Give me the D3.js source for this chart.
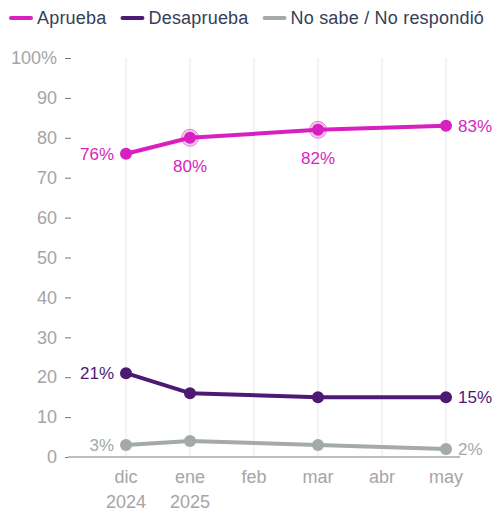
<!DOCTYPE html>
<html>
<head>
<meta charset="utf-8">
<script src="https://cdn.jsdelivr.net/npm/d3@7"></script>
<style>
  body { margin: 0; background: #fff; }
  svg text { font-family: "Liberation Sans", Arial, sans-serif; }
</style>
</head>
<body>
<script>
// datos
var MESES = ["dic", "ene", "feb", "mar", "abr", "may"];
var ANIOS = ["2024", "2025", "", "", "", ""];
var FECHAS = ["dic", "ene", "mar", "may"];
var APRUEBA = [76, 80, 82, 83];
var DESAPRUEBA = [21, 16, 15, 15];
var NO_SABE = [3, 4, 3, 2];
var TICKS = [0, 10, 20, 30, 40, 50, 60, 70, 80, 90, 100];

var w = 496, h = 512;

var series = [
  { name: "Aprueba", values: APRUEBA, color: "#d81fc0", labels: ["left", "below", "below", "right"], halo: [false, true, true, false] },
  { name: "Desaprueba", values: DESAPRUEBA, color: "#4c1a73", labels: ["left", null, null, "right"], halo: [false, false, false, false] },
  { name: "No sabe / No respondió", values: NO_SABE, color: "#a3aaa8", labels: ["left", null, null, "right"], halo: [false, false, false, false] }
];

var svg = d3.select("body").append("svg").attr("width", w).attr("height", h);

var x = d3.scalePoint().domain(MESES).range([126, 446]);
var y = d3.scaleLinear().domain([0, 100]).range([457, 58]);

// grilla vertical
svg.append("g").selectAll("line").data(MESES).enter().append("line")
  .attr("x1", function (d) { return x(d); }).attr("x2", function (d) { return x(d); })
  .attr("y1", y(100)).attr("y2", y(0))
  .attr("stroke", "#e6e6e6").attr("stroke-width", 1);

// eje y
var gy = svg.append("g").attr("transform", "translate(71,0)")
  .call(d3.axisLeft(y).tickValues(TICKS).tickSize(6).tickPadding(8)
    .tickFormat(function (d) { return d === 100 ? "100%" : d; }));
gy.select(".domain").remove();
gy.selectAll(".tick line").attr("stroke", "#777");
gy.selectAll(".tick text").attr("fill", "#a5a5a5").attr("font-size", 18);

// linea base
svg.append("line").attr("x1", 68).attr("x2", 460).attr("y1", y(0)).attr("y2", y(0))
  .attr("stroke", "#bdbdbd").attr("stroke-width", 2);

// eje x
var gx = svg.append("g");
gx.selectAll("text.mes").data(MESES).enter().append("text")
  .attr("x", function (d) { return x(d); }).attr("y", 483)
  .attr("text-anchor", "middle").attr("font-size", 18).attr("fill", "#a5a5a5")
  .text(function (d) { return d; });
gx.selectAll("text.anio").data(ANIOS).enter().append("text")
  .attr("x", function (d, i) { return x(MESES[i]); }).attr("y", 508)
  .attr("text-anchor", "middle").attr("font-size", 18).attr("fill", "#a5a5a5")
  .text(function (d) { return d; });

var line = d3.line().x(function (d) { return x(d.mes); }).y(function (d) { return y(d.v); });

series.forEach(function (s) {
  var pts = s.values.map(function (v, i) { return { mes: FECHAS[i], v: v, pos: s.labels[i], halo: s.halo[i] }; });
  svg.append("path").datum(pts).attr("d", line)
    .attr("fill", "none").attr("stroke", s.color).attr("stroke-width", 4).attr("stroke-linejoin", "round");
  svg.selectAll(null).data(pts.filter(function (d) { return d.halo; })).enter().append("circle")
    .attr("cx", function (d) { return x(d.mes); }).attr("cy", function (d) { return y(d.v); })
    .attr("r", 8.5).attr("fill", s.color).attr("fill-opacity", 0.25)
    .attr("stroke", s.color).attr("stroke-opacity", 0.5).attr("stroke-width", 1);
  svg.selectAll(null).data(pts).enter().append("circle")
    .attr("cx", function (d) { return x(d.mes); }).attr("cy", function (d) { return y(d.v); })
    .attr("r", 6).attr("fill", s.color);
  svg.selectAll(null).data(pts.filter(function (d) { return d.pos; })).enter().append("text")
    .attr("x", function (d) {
      if (d.pos === "left") return x(d.mes) - 12;
      if (d.pos === "right") return x(d.mes) + 12;
      return x(d.mes);
    })
    .attr("y", function (d) { return d.pos === "below" ? y(d.v) + 34 : y(d.v) + 6; })
    .attr("text-anchor", function (d) { return d.pos === "left" ? "end" : d.pos === "right" ? "start" : "middle"; })
    .attr("font-size", 17).attr("fill", s.color)
    .text(function (d) { return d.v + "%"; });
});

// leyenda
var lx = 9;
var leg = svg.append("g");
series.forEach(function (s) {
  leg.append("line").attr("x1", lx + 2).attr("x2", lx + 22).attr("y1", 18).attr("y2", 18)
    .attr("stroke", s.color).attr("stroke-width", 4).attr("stroke-linecap", "round");
  var t = leg.append("text").attr("x", lx + 28).attr("y", 24).attr("font-size", 18)
    .attr("letter-spacing", 0.2).attr("fill", "#34405a").text(s.name);
  lx += 28 + t.node().getComputedTextLength() + 14;
});
</script>
</body>
</html>
